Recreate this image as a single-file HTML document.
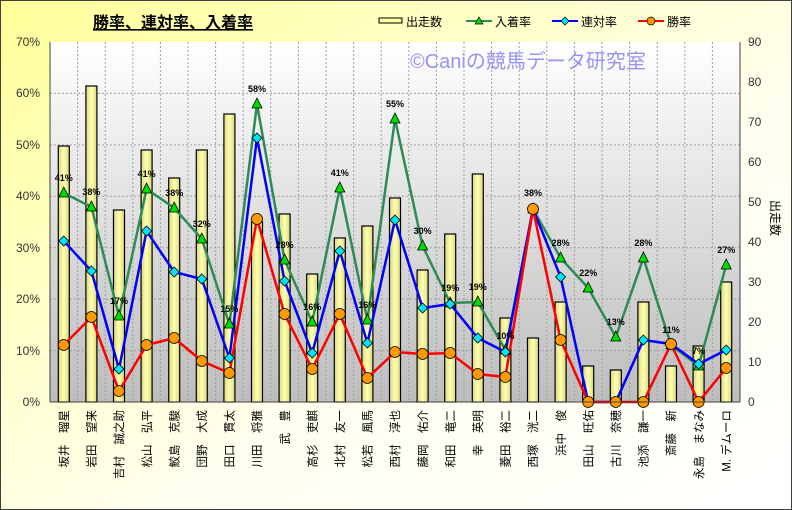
<!DOCTYPE html>
<html><head><meta charset="utf-8"><style>
html,body{margin:0;padding:0;}
body{width:792px;height:510px;overflow:hidden;position:relative;font-family:"Liberation Sans","Noto Sans CJK JP",sans-serif;}
</style></head><body>
<svg id="s" width="792" height="510" xmlns="http://www.w3.org/2000/svg" font-family="Liberation Sans, Noto Sans CJK JP, sans-serif" style="position:absolute;left:0;top:0">
<defs>
<linearGradient id="bg" x1="0" y1="0" x2="1" y2="1"><stop offset="0" stop-color="#ffff99"/><stop offset="0.6" stop-color="#fffff0"/><stop offset="1" stop-color="#ffffff"/></linearGradient>
<linearGradient id="pa" x1="0" y1="0" x2="0" y2="1"><stop offset="0" stop-color="#ffffff"/><stop offset="1" stop-color="#bdbdbd"/></linearGradient>
<linearGradient id="bar" x1="0" y1="0" x2="1" y2="0"><stop offset="0" stop-color="#d8d880"/><stop offset="0.5" stop-color="#ffffb0"/><stop offset="1" stop-color="#d8d880"/></linearGradient>
</defs>
<rect x="0.5" y="0.5" width="791" height="509" fill="url(#bg)" stroke="#404040"/>
<rect x="50" y="42" width="690" height="360" fill="url(#pa)"/>
<g id="grid" stroke="#a0a0a0" stroke-dasharray="2,2" stroke-width="1"></g>
<text x="410" y="68" font-size="20" fill="#9595f0">©Caniの競馬データ研究室</text>
<g id="bars"></g>
<g id="lines"></g>
<line x1="50" y1="42" x2="50" y2="402" stroke="#404040"/>
<line x1="740" y1="42" x2="740" y2="402" stroke="#404040"/>
<line x1="50" y1="402" x2="740" y2="402" stroke="#404040"/>
<g font-size="12" fill="#333" text-anchor="end">
<text x="40" y="46">70%</text><text x="40" y="97">60%</text><text x="40" y="149">50%</text><text x="40" y="200">40%</text><text x="40" y="252">30%</text><text x="40" y="303">20%</text><text x="40" y="355">10%</text><text x="40" y="406">0%</text>
</g>
<g font-size="12" fill="#333">
<text x="748" y="46">90</text><text x="748" y="86">80</text><text x="748" y="126">70</text><text x="748" y="166">60</text><text x="748" y="206">50</text><text x="748" y="246">40</text><text x="748" y="286">30</text><text x="748" y="326">20</text><text x="748" y="366">10</text><text x="748" y="406">0</text>
</g>
<text transform="translate(771,200) rotate(90)" font-size="12" fill="#000">出走数</text>
<text x="93" y="28" font-size="16" font-weight="bold" fill="#000" text-decoration="underline">勝率、連対率、入着率</text>
<g font-size="12" fill="#000">
<rect x="379" y="18" width="23" height="5" fill="#ffffa0" stroke="#000"/><text x="406" y="26">出走数</text>
<line x1="466" y1="21" x2="492" y2="21" stroke="#2e8b57" stroke-width="2"/><polygon points="479,17 483,24 475,24" fill="#00dd00" stroke="#000" stroke-width="0.7"/><text x="495" y="26">入着率</text>
<line x1="552" y1="21" x2="578" y2="21" stroke="#0000ff" stroke-width="2"/><polygon points="565,17 569,21 565,25 561,21" fill="#00e5ff" stroke="#000" stroke-width="0.7"/><text x="581" y="26">連対率</text>
<line x1="638" y1="21" x2="664" y2="21" stroke="#ff0000" stroke-width="2"/><circle cx="651" cy="21" r="4" fill="#ff9900" stroke="#000" stroke-width="0.7"/><text x="667" y="26">勝率</text>
</g>
<g id="pl" font-size="9" font-weight="bold" fill="#000" text-anchor="middle">
<text x="63.8" y="181">41%</text><text x="91.4" y="195">38%</text><text x="119" y="304">17%</text><text x="146.6" y="177">41%</text><text x="174.2" y="196">38%</text><text x="201.8" y="227">32%</text><text x="229.4" y="312">15%</text><text x="257" y="92">58%</text><text x="284.6" y="248">28%</text><text x="312.2" y="310">16%</text><text x="339.8" y="176">41%</text><text x="367.4" y="308">16%</text><text x="395" y="107">55%</text><text x="422.6" y="234">30%</text><text x="450.2" y="291">19%</text><text x="477.8" y="290">19%</text><text x="505.4" y="339">10%</text><text x="533" y="196">38%</text><text x="560.6" y="246">28%</text><text x="588.2" y="276">22%</text><text x="615.8" y="325">13%</text><text x="643.4" y="246">28%</text><text x="671" y="333">11%</text><text x="698.6" y="354">7%</text><text x="726.2" y="253">27%</text>
</g>
<g font-size="11.5" fill="#000" text-anchor="end">
<text transform="translate(68,410) rotate(-90)">坂井　瑠星</text>
<text transform="translate(95.6,410) rotate(-90)">岩田　望来</text>
<text transform="translate(123.2,410) rotate(-90)">吉村　誠之助</text>
<text transform="translate(150.8,410) rotate(-90)">松山　弘平</text>
<text transform="translate(178.4,410) rotate(-90)">鮫島　克駿</text>
<text transform="translate(206,410) rotate(-90)">団野　大成</text>
<text transform="translate(233.6,410) rotate(-90)">田口　貫太</text>
<text transform="translate(261.2,410) rotate(-90)">川田　将雅</text>
<text transform="translate(288.8,410) rotate(-90)">武　豊</text>
<text transform="translate(316.4,410) rotate(-90)">高杉　吏麒</text>
<text transform="translate(344,410) rotate(-90)">北村　友一</text>
<text transform="translate(371.6,410) rotate(-90)">松若　風馬</text>
<text transform="translate(399.2,410) rotate(-90)">西村　淳也</text>
<text transform="translate(426.8,410) rotate(-90)">藤岡　佑介</text>
<text transform="translate(454.4,410) rotate(-90)">和田　竜二</text>
<text transform="translate(482,410) rotate(-90)">幸　英明</text>
<text transform="translate(509.6,410) rotate(-90)">菱田　裕二</text>
<text transform="translate(537.2,410) rotate(-90)">西塚　洸二</text>
<text transform="translate(564.8,410) rotate(-90)">浜中　俊</text>
<text transform="translate(592.4,410) rotate(-90)">田山　旺佑</text>
<text transform="translate(620,410) rotate(-90)">古川　奈穂</text>
<text transform="translate(647.6,410) rotate(-90)">池添　謙一</text>
<text transform="translate(675.2,410) rotate(-90)">斎藤　新</text>
<text transform="translate(702.8,410) rotate(-90)">永島　まなみ</text>
<text transform="translate(730.4,410) rotate(-90)">M. デムーロ</text>
</g>
</svg>
<script>
var NS="http://www.w3.org/2000/svg";
function el(p,t,a){var e=document.createElementNS(NS,t);for(var k in a)e.setAttribute(k,a[k]);document.getElementById(p).appendChild(e);return e;}
var X=[];for(var i=0;i<25;i++)X.push(63.8+27.6*i);
for(var i=1;i<25;i++)el("grid","line",{x1:50+27.6*i,y1:42,x2:50+27.6*i,y2:402});
for(var j=1;j<7;j++){var y=402-j*51.43;el("grid","line",{x1:50,y1:y,x2:740,y2:y});}
var B=[64,79,48,63,56,63,72,45,47,32,41,44,51,33,42,57,21,16,25,9,8,25,9,14,30];
B.forEach(function(n,i){var y=402-4*n;el("bars","rect",{x:X[i]-5.5,y:y,width:11,height:402-y,fill:"url(#bar)",stroke:"#000","stroke-width":1.2});});
var G=[193,207,316,189,208,239,324,104,260,322,188,320,119,246,303,302,350,209,258,288,337,258,345,366,265];
var BL=[241,271,369,231,272,279,358,138,281,353,251,343,220,308,304,338,352,209,277,402,402,340,344,364,350];
var R=[345,317,391,345,338,361,373,219,314,369,314,378,352,354,353,374,377,209,340,402,402,402,344,402,368];
function pts(a){return a.map(function(y,i){return X[i]+","+y;}).join(" ");}
el("lines","polyline",{points:pts(G),fill:"none",stroke:"#2e8b57","stroke-width":2.5});
el("lines","polyline",{points:pts(BL),fill:"none",stroke:"#0000ff","stroke-width":2.5});
el("lines","polyline",{points:pts(R),fill:"none",stroke:"#ff0000","stroke-width":2.5});
G.forEach(function(y,i){var x=X[i];el("lines","polygon",{points:x+","+(y-6)+" "+(x+5)+","+(y+4)+" "+(x-5)+","+(y+4),fill:"#00dd00",stroke:"#000","stroke-width":0.8});});
BL.forEach(function(y,i){var x=X[i];el("lines","polygon",{points:x+","+(y-5)+" "+(x+5)+","+y+" "+x+","+(y+5)+" "+(x-5)+","+y,fill:"#00e5ff",stroke:"#000","stroke-width":0.8});});
R.forEach(function(y,i){el("lines","circle",{cx:X[i],cy:y,r:5.5,fill:"#ff9900",stroke:"#000","stroke-width":0.8});});
</script>
</body></html>
